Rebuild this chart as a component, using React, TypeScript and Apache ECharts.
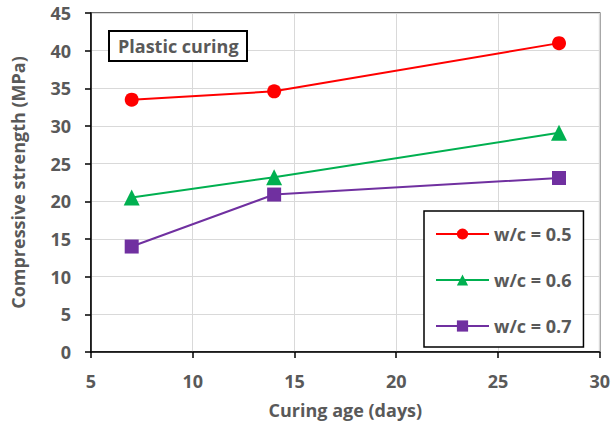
import React, { useEffect, useRef } from "react";
import * as echarts from "echarts";

const curingAge = [7, 14, 28];
const wc05 = [33.5, 34.6, 41.0];
const wc06 = [20.5, 23.2, 29.1];
const wc07 = [14.0, 20.9, 23.1];
const seriesNames = ["w/c = 0.5", "w/c = 0.6", "w/c = 0.7"];
const seriesColors = ["#FF0000", "#00B050", "#7030A0"];
const seriesSymbols = ["circle", "triangle", "rect"];

const FONT = "'Open Sans', sans-serif";
const GRAY = "#595959";
const FS = 18;

export default function App() {
  const ref = useRef<HTMLDivElement>(null);
  useEffect(() => {
    if (!ref.current) return;
    const chart = echarts.init(ref.current, null, { renderer: "svg" });
    const values = [wc05, wc06, wc07];
    chart.setOption({
      animation: false,
      backgroundColor: "#fff",
      textStyle: { fontFamily: FONT },
      grid: {
        left: 91,
        right: 12,
        top: 13,
        bottom: 77,
        show: true,
        borderColor: "#404040",
        borderWidth: 1.5,
      },
      title: {
        text: "Plastic curing",
        left: 109,
        top: 31,
        padding: [6, 9, 6, 9],
        borderColor: "#000",
        borderWidth: 2,
        backgroundColor: "#fff",
        textStyle: { fontFamily: FONT, fontSize: FS, fontWeight: "bold", color: GRAY },
      },
      legend: {
        orient: "vertical",
        left: 424,
        top: 211,
        padding: [14, 12, 12, 11],
        itemWidth: 53,
        itemHeight: 14,
        itemGap: 28,
        borderColor: "#000",
        borderWidth: 1.5,
        backgroundColor: "#fff",
        data: seriesNames,
        textStyle: { fontFamily: FONT, fontSize: FS, fontWeight: "bold", color: GRAY },
      },
      xAxis: {
        type: "value",
        min: 5,
        max: 30,
        interval: 5,
        name: "Curing age (days)",
        nameLocation: "middle",
        nameGap: 49,
        nameTextStyle: { fontFamily: FONT, fontSize: FS, fontWeight: "bold", color: GRAY },
        axisLine: { show: true, onZero: false, lineStyle: { color: "#000", width: 1.5 } },
        axisTick: { show: true, length: 6, lineStyle: { color: "#000", width: 1.5 } },
        axisLabel: { margin: 20, fontFamily: FONT, fontSize: FS, fontWeight: "bold", color: GRAY },
        splitLine: { show: true, lineStyle: { color: "#D9D9D9", width: 1 } },
      },
      yAxis: {
        type: "value",
        min: 0,
        max: 45,
        interval: 5,
        name: "Compressive strength (MPa)",
        nameLocation: "middle",
        nameGap: 64,
        nameTextStyle: { fontFamily: FONT, fontSize: FS, fontWeight: "bold", color: GRAY },
        axisLine: { show: true, lineStyle: { color: "#000", width: 1.5 } },
        axisTick: { show: true, length: 6, lineStyle: { color: "#000", width: 1.5 } },
        axisLabel: { margin: 20, fontFamily: FONT, fontSize: FS, fontWeight: "bold", color: GRAY },
        splitLine: { show: true, lineStyle: { color: "#D9D9D9", width: 1 } },
      },
      series: seriesNames.map((name, i) => ({
        name,
        type: "line",
        data: curingAge.map((x, j) => [x, values[i][j]]),
        symbol: seriesSymbols[i],
        symbolSize: i === 1 ? 16 : 14,
        lineStyle: { color: seriesColors[i], width: 2 },
        itemStyle: { color: seriesColors[i] },
        z: 3,
      })),
    });
    return () => chart.dispose();
  }, []);
  return <div ref={ref} style={{ width: 613, height: 429, position: "absolute", left: 0, top: 0 }} />;
}
